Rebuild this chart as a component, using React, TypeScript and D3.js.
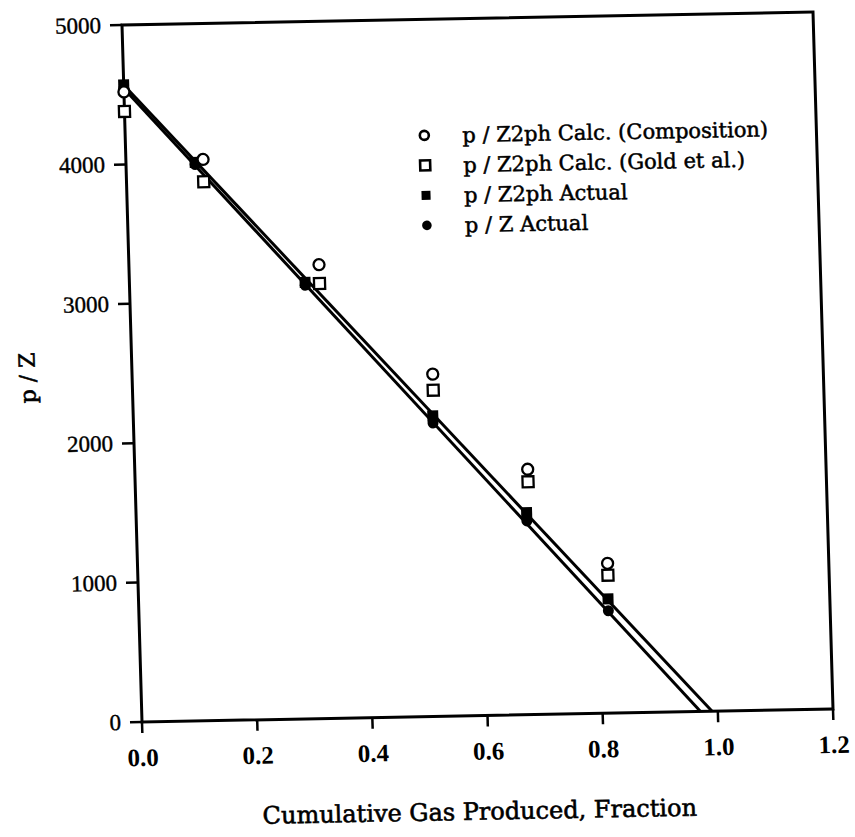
import React from 'react';
import * as d3 from 'd3';

// Axis ticks
const xTickValues = [0, 0.2, 0.4, 0.6, 0.8, 1.0, 1.2];
const yTickValues = [0, 1000, 2000, 3000, 4000, 5000];

// Cumulative gas produced (fraction) for calculated and measured points
const calcX = [0, 0.134, 0.33, 0.522, 0.682, 0.816];
const actualX = [0, 0.12, 0.305, 0.52, 0.678, 0.815];

// p/Z values
const compositionPZ = [4520, 4025, 3255, 2455, 1760, 1075];
const goldPZ = [4380, 3865, 3120, 2340, 1670, 990];
const twoPhaseActualPZ = [4570, 4005, 3130, 2155, 1450, 820];
const singlePhaseActualPZ = [4545, 3990, 3110, 2105, 1390, 735];

// Straight-line fits (start and x-intercept)
const twoPhaseFit: [number, number][] = [[0, 4570], [0.99, 0]];
const singlePhaseFit: [number, number][] = [[0, 4545], [0.97, 0]];

const legendLabels = [
  'p / Z2ph Calc. (Composition)',
  'p / Z2ph Calc. (Gold et al.)',
  'p / Z2ph Actual',
  'p / Z Actual',
];

const W = 691;
const H = 697;

export default function App() {
  const x = d3.scaleLinear().domain([0, 1.2]).range([0, W]);
  const y = d3.scaleLinear().domain([0, 5000]).range([H, 0]);
  const line = d3
    .line<[number, number]>()
    .x((d) => x(d[0]))
    .y((d) => y(d[1]));
  const fmt = d3.format('.1f');

  const serif = "'DejaVu Serif', serif";
  const times = "'Liberation Serif', 'Times New Roman', serif";

  const ms = 11; // marker size
  const legendRowY = (i: number) => 116 + i * 30;
  const legendMarkerX = 299;
  const legendTextX = 337;

  return (
    <svg
      width={855}
      height={837}
      style={{ position: 'absolute', left: 0, top: 0, background: '#fff' }}
    >
      <rect x={0} y={0} width={855} height={837} fill="#fff" />
      {/* the whole figure sits slightly rotated on the page */}
      <g transform="matrix(1,-0.0188,0.0287,1,122,25)">
        {/* frame */}
        <rect x={0} y={0} width={W} height={H} fill="none" stroke="#000" strokeWidth={3} />

        {/* y ticks */}
        {yTickValues.map((v) => (
          <g key={'y' + v}>
            <line x1={-12} x2={0} y1={y(v)} y2={y(v)} stroke="#000" strokeWidth={2.5} />
            <text
              x={-21}
              y={y(v)}
              dy="0.33em"
              textAnchor="end"
              fontFamily={times}
              fontSize={23}
              fill="#000"
              stroke="#000"
              strokeWidth={0.4}
            >
              {v}
            </text>
          </g>
        ))}

        {/* x ticks */}
        {xTickValues.map((v) => (
          <g key={'x' + v}>
            <line x1={x(v)} x2={x(v)} y1={H} y2={H + 11} stroke="#000" strokeWidth={2.5} />
            <text
              x={x(v)}
              y={H + 44}
              textAnchor="middle"
              fontFamily={times}
              fontWeight="bold"
              fontSize={25}
              fill="#000"
            >
              {fmt(v)}
            </text>
          </g>
        ))}

        {/* axis titles */}
        <text
          x={335}
          y={801}
          textAnchor="middle"
          fontFamily={serif}
          fontSize={24}
          fill="#000"
          stroke="#000"
          strokeWidth={0.6}
        >
          Cumulative Gas Produced, Fraction
        </text>
        <text
          transform="translate(-97,351) rotate(-90)"
          textAnchor="middle"
          fontFamily={serif}
          fontSize={22}
          fill="#000"
          stroke="#000"
          strokeWidth={0.6}
        >
          p / Z
        </text>

        {/* fitted lines */}
        <path d={line(twoPhaseFit) || ''} fill="none" stroke="#000" strokeWidth={3} />
        <path d={line(singlePhaseFit) || ''} fill="none" stroke="#000" strokeWidth={3} />

        {/* p/Z2ph actual: filled squares */}
        {actualX.map((xv, i) => (
          <rect
            key={'fs' + i}
            x={x(xv) - ms / 2}
            y={y(twoPhaseActualPZ[i]) - ms / 2}
            width={ms}
            height={ms}
            fill="#000"
          />
        ))}
        {/* p/Z actual: filled circles */}
        {actualX.map((xv, i) => (
          <circle key={'fc' + i} cx={x(xv)} cy={y(singlePhaseActualPZ[i])} r={5.5} fill="#000" />
        ))}
        {/* Gold et al.: open squares */}
        {calcX.map((xv, i) => (
          <rect
            key={'os' + i}
            x={x(xv) - ms / 2}
            y={y(goldPZ[i]) - ms / 2}
            width={ms}
            height={ms}
            fill="#fff"
            stroke="#000"
            strokeWidth={2.3}
          />
        ))}
        {/* composition: open circles */}
        {calcX.map((xv, i) => (
          <circle
            key={'oc' + i}
            cx={x(xv)}
            cy={y(compositionPZ[i])}
            r={5.5}
            fill="#fff"
            stroke="#000"
            strokeWidth={2.3}
          />
        ))}

        {/* legend */}
        <g>
          <circle cx={legendMarkerX} cy={legendRowY(0)} r={4.5} fill="#fff" stroke="#000" strokeWidth={2.6} />
          <rect
            x={legendMarkerX - 5}
            y={legendRowY(1) - 5}
            width={10}
            height={10}
            fill="#fff"
            stroke="#000"
            strokeWidth={2.6}
          />
          <rect x={legendMarkerX - 4.5} y={legendRowY(2) - 4.5} width={9} height={9} fill="#000" />
          <circle cx={legendMarkerX} cy={legendRowY(3)} r={4.8} fill="#000" />
          {legendLabels.map((t, i) => (
            <text
              key={t}
              x={legendTextX}
              y={legendRowY(i) + 7.5}
              fontFamily={serif}
              fontSize={21}
              fill="#000"
              stroke="#000"
              strokeWidth={0.5}
            >
              {t}
            </text>
          ))}
        </g>
      </g>
    </svg>
  );
}
